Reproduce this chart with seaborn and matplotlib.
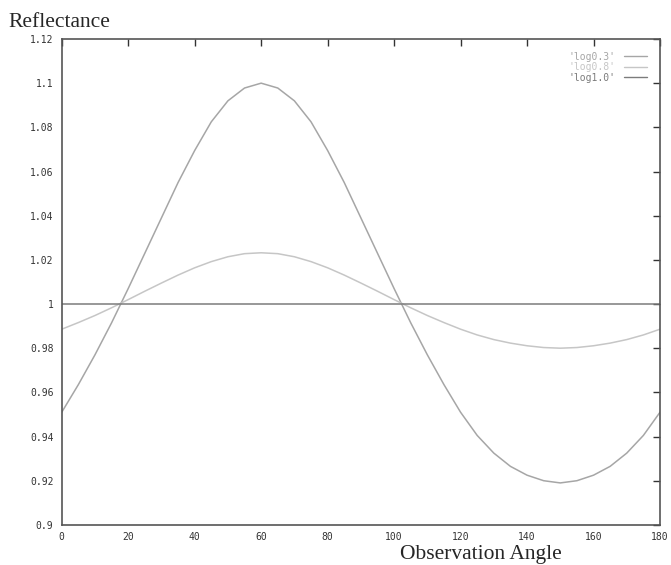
import pandas as pd
import numpy as np
import matplotlib
matplotlib.use("Agg")
import matplotlib.pyplot as plt
import seaborn as sns

sns.set_style("white")

# observation angle in degrees
angles = [0, 5, 10, 15, 20, 25, 30, 35, 40, 45, 50, 55, 60, 65, 70, 75, 80, 85, 90,
          95, 100, 105, 110, 115, 120, 125, 130, 135, 140, 145, 150, 155, 160, 165,
          170, 175, 180]

log03 = [0.9510, 0.9635, 0.9770, 0.9915, 1.0070, 1.0230, 1.0390, 1.0550, 1.0695,
         1.0825, 1.0920, 1.0978, 1.1000, 1.0978, 1.0920, 1.0825, 1.0695, 1.0550,
         1.0390, 1.0230, 1.0070, 0.9915, 0.9770, 0.9635, 0.9510, 0.9405, 0.9325,
         0.9265, 0.9225, 0.9200, 0.9190, 0.9200, 0.9225, 0.9265, 0.9325, 0.9405,
         0.9510]

log08 = [0.9886, 0.9916, 0.9948, 0.9983, 1.0020, 1.0058, 1.0095, 1.0131, 1.0164,
         1.0192, 1.0214, 1.0228, 1.0232, 1.0228, 1.0214, 1.0192, 1.0164, 1.0131,
         1.0095, 1.0058, 1.0020, 0.9983, 0.9948, 0.9916, 0.9886, 0.9860, 0.9839,
         0.9823, 0.9811, 0.9803, 0.9800, 0.9803, 0.9811, 0.9823, 0.9839, 0.9860,
         0.9886]

log10 = [1.0] * len(angles)

series_names = ["'log0.3'", "'log0.8'", "'log1.0'"]
series_colors = ["#a6a6a6", "#c6c6c6", "#7c7c7c"]

df = pd.DataFrame({
    "angle": angles * 3,
    "value": log03 + log08 + log10,
    "series": [series_names[0]] * len(angles)
              + [series_names[1]] * len(angles)
              + [series_names[2]] * len(angles),
})

fig = plt.figure(figsize=(6.71, 5.65), dpi=100)
ax = fig.add_axes([0.092, 0.071, 0.8916, 0.860])

sns.lineplot(
    data=df,
    x="angle",
    y="value",
    hue="series",
    palette=dict(zip(series_names, series_colors)),
    linewidth=1.1,
    ax=ax,
)

ax.set_xlim(0, 180)
ax.set_ylim(0.9, 1.12)
ax.set_xticks(np.arange(0, 181, 20))
ax.set_yticks(np.arange(0.9, 1.121, 0.02))
ax.set_xticklabels([str(t) for t in range(0, 181, 20)])
ax.set_yticklabels(["0.9", "0.92", "0.94", "0.96", "0.98", "1",
                    "1.02", "1.04", "1.06", "1.08", "1.1", "1.12"])

mono = ["DejaVu Sans Mono"]
for lab in ax.get_xticklabels() + ax.get_yticklabels():
    lab.set_family(mono)
    lab.set_fontsize(7)
    lab.set_color("#333333")

ax.tick_params(direction="in", length=5, width=1, color="#333333",
               top=True, right=True)
ax.tick_params(axis="y", pad=6)
ax.tick_params(axis="x", pad=5)
for sp in ax.spines.values():
    sp.set_color("#555555")
    sp.set_linewidth(1.2)

ax.set_xlabel("")
ax.set_ylabel("")

fig.text(0.012, 0.953, "Reflectance", family="Liberation Serif", fontsize=15.5,
         ha="left", va="baseline")
fig.text(0.717, 0.011, "Observation Angle", family="Liberation Serif", fontsize=15.5,
         ha="center", va="baseline")

leg = ax.legend(loc="upper right", frameon=False, markerfirst=False,
                prop={"family": "DejaVu Sans Mono", "size": 7},
                handlelength=2.4, handletextpad=0.9, labelspacing=0.05,
                bbox_to_anchor=(0.985, 0.982), borderaxespad=0)
for txt, c in zip(leg.get_texts(), series_colors):
    txt.set_color(c)
for line in leg.get_lines():
    line.set_linewidth(1.0)

fig.savefig("out.png", dpi=100)
